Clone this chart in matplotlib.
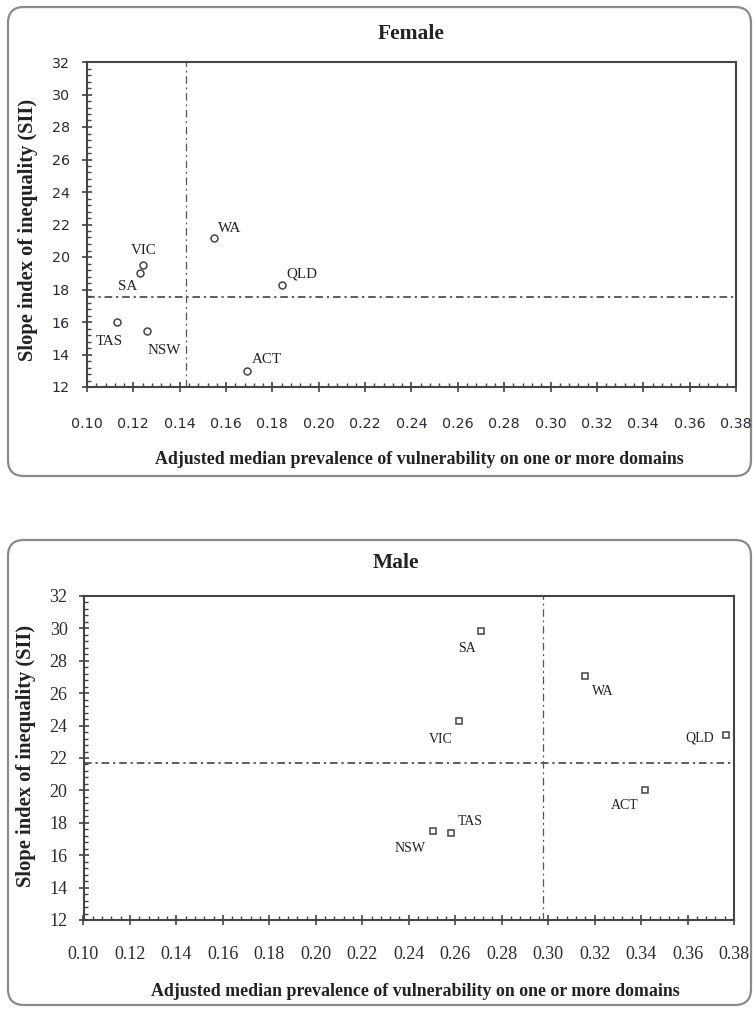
import matplotlib
import matplotlib.pyplot as plt
from matplotlib.patches import FancyBboxPatch
from matplotlib.ticker import AutoMinorLocator

matplotlib.use('Agg')

states = ['WA', 'VIC', 'SA', 'QLD', 'TAS', 'NSW', 'ACT']

female_x = [0.155, 0.124, 0.123, 0.184, 0.113, 0.126, 0.169]
female_y = [21.2, 19.5, 19.0, 18.3, 16.0, 15.45, 13.0]
female_ref_x = 0.1425
female_ref_y = 17.55

male_x = [0.316, 0.2615, 0.271, 0.3765, 0.258, 0.2505, 0.3415]
male_y = [27.05, 24.3, 29.85, 23.45, 17.35, 17.5, 20.05]
male_ref_x = 0.298
male_ref_y = 21.7

x_ticks = [0.10, 0.12, 0.14, 0.16, 0.18, 0.20, 0.22, 0.24, 0.26, 0.28, 0.30, 0.32, 0.34, 0.36, 0.38]
y_ticks = [12, 14, 16, 18, 20, 22, 24, 26, 28, 30, 32]

x_title = 'Adjusted median prevalence of vulnerability on one or more domains'
y_title = 'Slope index of inequality (SII)'

# label offsets in pixels (dx, dy, ha)
female_offsets = {'WA': (4, 5, 'left'), 'VIC': (1, 11, 'center'), 'SA': (-3, -17, 'right'),
                  'QLD': (5, 7, 'left'), 'TAS': (-8, -23, 'center'), 'NSW': (0, -23, 'left'),
                  'ACT': (5, 8, 'left')}
male_offsets = {'WA': (7, -19, 'left'), 'VIC': (-6, -22, 'right'), 'SA': (-5, -21, 'right'),
                'QLD': (-12, -7, 'right'), 'TAS': (7, 8, 'left'), 'NSW': (-8, -21, 'right'),
                'ACT': (-6, -19, 'right')}

W, H = 753, 1011
serif = 'Liberation Serif'
dark = '#222222'
spine_col = '#444444'

fig = plt.figure(figsize=(W / 100, H / 100), dpi=100)


def frac(x, y):
    return x / W, 1 - y / H


def frame(top, bottom):
    box = FancyBboxPatch((0.08, (H - bottom) / 100), 7.43, (bottom - top) / 100,
                         boxstyle='round,pad=0,rounding_size=0.16',
                         transform=fig.dpi_scale_trans, facecolor='none',
                         edgecolor='#8a8a8a', linewidth=1.6, zorder=-1)
    fig.patches.append(box)


def panel(rect, xs, ys, ref_x, ref_y, marker, offsets, tick_font, tick_size, tick_col,
          xpad, ypad, label_size):
    ax = fig.add_axes(rect)
    ax.set_xlim(0.10, 0.38)
    ax.set_ylim(12, 32)
    ax.set_xticks(x_ticks)
    ax.set_yticks(y_ticks)
    ax.set_xticklabels(['%.2f' % v for v in x_ticks])
    ax.xaxis.set_minor_locator(AutoMinorLocator(5))
    ax.yaxis.set_minor_locator(AutoMinorLocator(5))
    ax.tick_params(which='major', direction='inout', length=7, width=1.2, color=spine_col)
    ax.tick_params(which='minor', direction='in', length=3, width=1.0, color=spine_col)
    ax.tick_params(axis='x', which='major', pad=xpad)
    ax.tick_params(axis='y', which='major', pad=ypad)
    for lab in ax.get_xticklabels() + ax.get_yticklabels():
        lab.set_fontfamily(tick_font)
        lab.set_fontsize(tick_size)
        lab.set_color(tick_col)
    for s in ax.spines.values():
        s.set_color(spine_col)
        s.set_linewidth(1.5)
    ax.axhline(ref_y, color='#333333', lw=1.1, ls=(0, (5, 2.5, 1.5, 2.5)), zorder=1)
    ax.axvline(ref_x, color='#555555', lw=0.9, ls=(0, (6, 3, 1.5, 3)), zorder=1)
    ax.plot(xs, ys, ls='none', marker=marker, markersize=5, markerfacecolor='white',
            markeredgecolor='#444444', markeredgewidth=1.1, zorder=3)
    for name, x, y in zip(states, xs, ys):
        dx, dy, ha = offsets[name]
        ax.annotate(name, (x, y), xytext=(dx, dy), textcoords='offset pixels',
                    ha=ha, va='baseline', family=serif, fontsize=label_size, color=dark)
    return ax


# Female panel
frame(7, 476)
fl, fb = frac(87, 387)
fr, ft = frac(736, 62)
panel([fl, fb, fr - fl, ft - fb], female_x, female_y, female_ref_x, female_ref_y, 'o',
      female_offsets, 'DejaVu Sans', 10.3, '#2a2a3a', 18, 9, 10.8)
fig.text(*frac(411, 34), 'Female', family=serif, weight='bold', fontsize=15.5,
         ha='center', va='center', color=dark)
fig.text(*frac(419, 460), x_title, family=serif, weight='bold', fontsize=12.9,
         ha='center', va='center', color=dark)
fig.text(*frac(28, 230), y_title, family=serif, weight='bold', fontsize=14.8,
         ha='center', va='center', rotation=90, color=dark)

# Male panel
frame(540, 1005)
ml, mb = frac(83.5, 920)
mr, mt = frac(734, 596)
panel([ml, mb, mr - ml, mt - mb], male_x, male_y, male_ref_x, male_ref_y, 's',
      male_offsets, serif, 13, '#2a2a3a', 15, 8, 10)
fig.text(*frac(396, 563), 'Male', family=serif, weight='bold', fontsize=15.5,
         ha='center', va='center', color=dark)
fig.text(*frac(415, 991), x_title, family=serif, weight='bold', fontsize=12.9,
         ha='center', va='center', color=dark)
fig.text(*frac(26, 756), y_title, family=serif, weight='bold', fontsize=14.8,
         ha='center', va='center', rotation=90, color=dark)

fig.savefig('out.png', dpi=100)
